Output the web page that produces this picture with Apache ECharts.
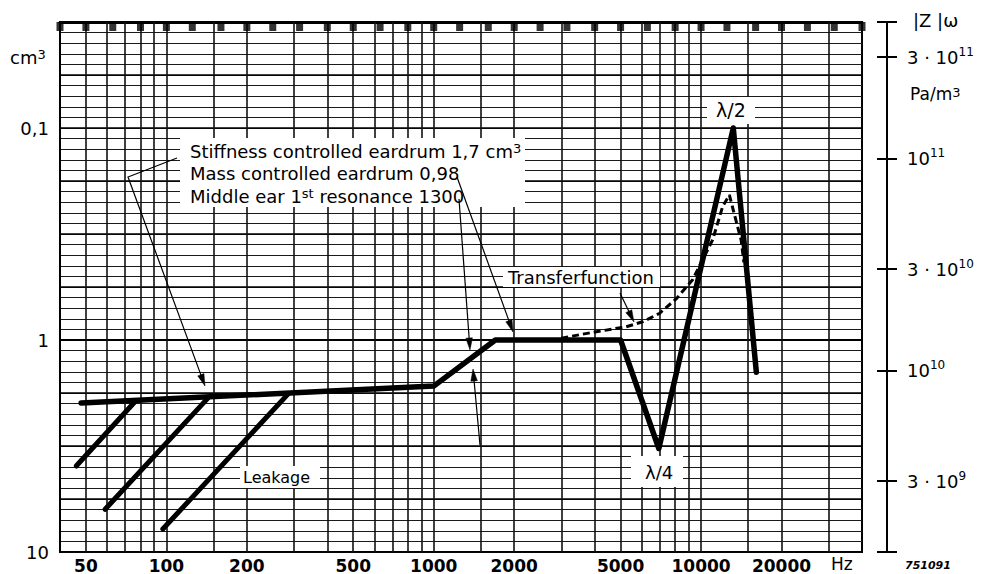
<!DOCTYPE html>
<html>
<head>
<meta charset="utf-8">
<script src="https://cdn.jsdelivr.net/npm/echarts@6/dist/echarts.min.js"></script>
<style>
html,body{margin:0;padding:0;background:#fff;}
#c{width:985px;height:574px;}
</style>
</head>
<body>
<div id="c"></div>
<script>
// ---------- data (frequency in Hz, equivalent volume in cm3) ----------
const mainCurve = [[48, 1.98], [1000, 1.65], [1700, 1.0], [5000, 1.0], [6950, 3.25], [13200, 0.1], [16100, 1.42]];
const transferCurve = [[3000, 0.98], [3935, 0.92], [5250, 0.866], [6050, 0.82], [6980, 0.75], [8070, 0.64],
  [9300, 0.52], [11050, 0.337], [12040, 0.235], [12760, 0.207], [13700, 0.292], [14120, 0.337], [14460, 0.43]];
const leakage1 = [[46, 3.93], [77, 1.93]];
const leakage2 = [[59, 6.29], [143, 1.88]];
const leakage3 = [[97, 7.79], [285, 1.8]];

// ---------- axis / grid ticks ----------
const freqGrid = [50, 60, 70, 80, 90, 100, 150, 200, 300, 400, 500, 600, 700, 800, 900, 1000, 1500, 2000,
  3000, 4000, 5000, 6000, 7000, 8000, 9000, 10000, 15000, 20000, 30000];
const thirdOctave = [40, 50, 63, 80, 100, 125, 160, 200, 250, 315, 400, 500, 630, 800, 1000, 1250, 1600, 2000,
  2500, 3150, 4000, 5000, 6300, 8000, 10000, 12500, 16000, 20000, 25000, 31500, 40000];
const freqLabels = [50, 100, 200, 500, 1000, 2000, 5000, 10000, 20000];
const volTickDb = [-20, 0, 20];
const volTickText = ['0,1', '1', '10'];
const impTicks = [3e9, 1e10, 3e10, 1e11, 3e11];
const impTickText = ['{n|3 · 10}{s|9}', '{n|10}{s|10}', '{n|3 · 10}{s|10}', '{n|10}{s|11}', '{n|3 · 10}{s|11}'];

// ---------- chart ----------
const FONT = 'DejaVu Sans';
const LOG = Math.log10;
const V_MIN = Math.pow(10, -1.5), V_MAX = 10;
const Z_MIN = 9.143, Z_MAX = 11.643;
const zTickVals = [Z_MIN, LOG(3e9), 10, LOG(3e10), 11, LOG(3e11), Z_MAX];
const SUP = {s: {fontSize: 13, fontFamily: FONT, verticalAlign: 'top', fill: '#000', color: '#000'}};

const chart = echarts.init(document.getElementById('c'), null, {renderer: 'svg', width: 985, height: 574});

function txt(x, y, text, size, opts) {
  opts = opts || {};
  return {
    type: 'text', x: x, y: y, z: 120, silent: true,
    style: Object.assign({
      text: text, fill: '#000', fontFamily: FONT, fontSize: size,
      fontWeight: opts.weight || 'normal', fontStyle: opts.style || 'normal',
      align: opts.align || 'left', textAlign: opts.align || 'left',
      verticalAlign: 'middle', textVerticalAlign: 'middle', rich: SUP
    }, opts.extra || {})
  };
}
function box(x, y, w, h) {
  return {type: 'rect', z: 110, silent: true, shape: {x: x, y: y, width: w, height: h}, style: {fill: '#fff'}};
}
function arrow(pts) {
  const n = pts.length;
  const tip = pts[n - 1], prev = pts[n - 2];
  let dx = tip[0] - prev[0], dy = tip[1] - prev[1];
  const L = Math.sqrt(dx * dx + dy * dy); dx /= L; dy /= L;
  const bx = tip[0] - dx * 12, by = tip[1] - dy * 12;
  const px = -dy * 3.3, py = dx * 3.3;
  return [
    {type: 'polyline', z: 130, silent: true, shape: {points: pts.slice(0, n - 1).concat([[bx + dx * 2, by + dy * 2]])},
      style: {stroke: '#000', lineWidth: 1.2, fill: null}},
    {type: 'polygon', z: 130, silent: true, shape: {points: [tip, [bx + px, by + py], [bx - px, by - py]]},
      style: {fill: '#000', stroke: '#000', lineWidth: 0.5}}
  ];
}

const graphics = [
  box(180, 138, 345, 69),
  box(503, 267, 157, 20),
  box(240, 466, 80, 22),
  box(707, 97, 48, 27),
  box(631, 456, 52, 31),
  txt(10, 57, 'cm{s|3}', 18),
  txt(190, 151, 'Stiffness controlled eardrum 1,7 cm{s|3}', 18),
  txt(190, 173.5, 'Mass controlled eardrum 0,98', 18),
  txt(190, 196, 'Middle ear 1{s|st} resonance 1300', 18),
  txt(508, 277, 'Transferfunction', 18),
  txt(243, 477, 'Leakage', 16),
  txt(716, 110, 'λ/2', 19),
  txt(645, 472, 'λ/4', 18),
  txt(913, 20, '|Z |ω', 18),
  txt(910, 94, 'Pa/m{s|3}', 17),
  txt(831, 564, 'Hz', 17),
  txt(905, 565, '751091', 11, {weight: 'bold', style: 'italic'})
].concat(
  arrow([[177, 158], [128, 177], [205, 386]]),
  arrow([[457, 177], [513, 332]]),
  arrow([[459, 199], [470, 350]]),
  arrow([[480, 445], [473, 369]]),
  arrow([[620, 293], [634, 322]])
);

const thickLine = (w) => ({color: '#000', width: w, cap: 'round', join: 'round'});

const option = {
  animation: false,
  backgroundColor: '#fff',
  textStyle: {fontFamily: FONT},
  grid: {left: 60, right: 123, top: 22, bottom: 22, show: true, borderColor: '#000', borderWidth: 2, backgroundColor: 'transparent'},
  xAxis: [
    {type: 'log', min: 40, max: 40000, show: false},
    {type: 'value', min: LOG(40), max: LOG(40000), position: 'bottom',
      axisLine: {show: true, lineStyle: {color: '#000', width: 2}},
      axisTick: {show: false}, splitLine: {show: false},
      axisLabel: {customValues: freqLabels.map(LOG), formatter: v => String(Math.round(Math.pow(10, v))),
        color: '#000', fontSize: 17, fontWeight: 'bold', fontFamily: FONT, margin: 5}},
    {type: 'value', min: 0, max: 1, position: 'top',
      axisLine: {show: true, lineStyle: {color: '#000', width: 3}},
      axisTick: {show: false}, axisLabel: {show: false}, splitLine: {show: false}}
  ],
  yAxis: [
    {type: 'log', min: V_MIN, max: V_MAX, inverse: true, show: false},
    {type: 'value', min: -30, max: 20, interval: 1, inverse: true, position: 'left',
      axisLine: {show: true, lineStyle: {color: '#000', width: 2}}, axisTick: {show: false},
      splitLine: {show: true, lineStyle: {color: '#1a1a1a', width: 1}},
      axisLabel: {formatter: v => { const i = volTickDb.indexOf(Math.round(v)); return (i >= 0 && Math.abs(v - Math.round(v)) < 1e-6) ? volTickText[i] : ''; },
        color: '#000', fontSize: 18, fontFamily: FONT, margin: 11}},
    {type: 'value', min: -30, max: 20, interval: 5, inverse: true, position: 'left',
      axisLine: {show: false}, axisTick: {show: false}, axisLabel: {show: false},
      splitLine: {show: true, lineStyle: {color: '#000', width: 1.7}}},
    {type: 'value', min: Z_MIN, max: Z_MAX, position: 'right', offset: 25,
      axisLine: {show: true, lineStyle: {color: '#000', width: 2}},
      axisTick: {show: true, customValues: zTickVals, length: 10, lineStyle: {color: '#000', width: 2}},
      splitLine: {show: false},
      axisLabel: {customValues: impTicks.map(LOG), margin: 20, color: '#000', fontSize: 18, fontFamily: FONT,
        rich: {n: {fontSize: 18, fontFamily: FONT, color: '#000', lineHeight: 22}, s: {fontSize: 12, fontFamily: FONT, color: '#000', verticalAlign: 'top', lineHeight: 12}},
        formatter: v => { for (let i = 0; i < impTicks.length; i++) { if (Math.abs(LOG(impTicks[i]) - v) < 1e-6) return impTickText[i]; } return ''; }}},
    {type: 'value', min: Z_MIN, max: Z_MAX, position: 'right', offset: 25,
      axisLine: {show: false},
      axisTick: {show: true, inside: true, customValues: zTickVals, length: 10, lineStyle: {color: '#000', width: 2}},
      splitLine: {show: false}, axisLabel: {show: false}}
  ],
  graphic: {elements: graphics},
  series: [
    {type: 'line', xAxisIndex: 0, yAxisIndex: 0, data: [], silent: true, z: 1,
      markLine: {silent: true, symbol: ['none', 'none'], label: {show: false}, emphasis: {disabled: true},
        lineStyle: {color: '#111', width: 1.6, type: 'solid'}, data: freqGrid.map(f => ({xAxis: f}))}},
    {type: 'scatter', xAxisIndex: 0, yAxisIndex: 0, silent: true, z: 5, clip: false,
      symbol: 'rect', symbolSize: [7, 9], symbolOffset: [0, 4.5], itemStyle: {color: '#000'},
      data: thirdOctave.map(f => [f, V_MIN])},
    {type: 'line', xAxisIndex: 0, yAxisIndex: 0, data: mainCurve, showSymbol: false, symbol: 'none', z: 6, silent: true,
      lineStyle: thickLine(5.5)},
    {type: 'line', xAxisIndex: 0, yAxisIndex: 0, data: transferCurve, showSymbol: false, symbol: 'none', z: 7, silent: true,
      lineStyle: {color: '#000', width: 3, type: [7, 4]}},
    {type: 'line', xAxisIndex: 0, yAxisIndex: 0, data: leakage1, showSymbol: false, symbol: 'none', z: 6, silent: true, lineStyle: thickLine(5)},
    {type: 'line', xAxisIndex: 0, yAxisIndex: 0, data: leakage2, showSymbol: false, symbol: 'none', z: 6, silent: true, lineStyle: thickLine(5)},
    {type: 'line', xAxisIndex: 0, yAxisIndex: 0, data: leakage3, showSymbol: false, symbol: 'none', z: 6, silent: true, lineStyle: thickLine(5)}
  ]
};
chart.setOption(option);
</script>
</body>
</html>
